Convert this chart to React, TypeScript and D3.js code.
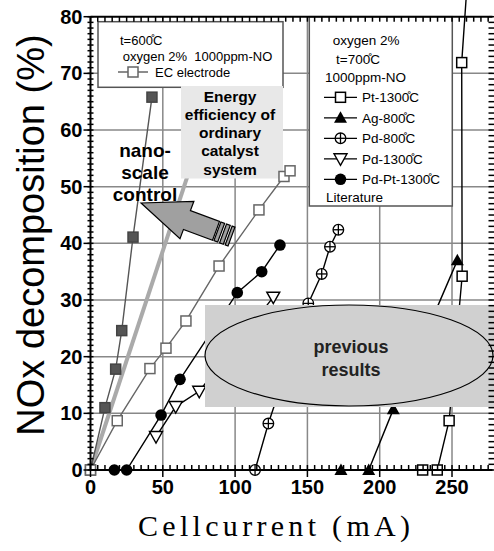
import * as d3 from "d3";

const W = 494;
const H = 551;

// [cell current mA, NOx decomposition %]
const ecFilled = [[0, 0], [10, 11], [17.4, 17.8], [21.6, 24.6], [29.4, 41.1], [42.5, 65.8]];
const ecElectrode = [[0, 0], [18.5, 8.7], [41.1, 17.9], [52.2, 21.5], [66, 26.3], [88.9, 36], [116.5, 45.9], [133.8, 51.8], [138, 52.8]];
const literature = [[0, 0], [75, 58]];
const pt1300 = [[229.7, 0], [239.8, 0], [248, 8.7], [257, 34.2], [256.7, 71.9], [259.7, 83]];
const ag800 = [[173.2, 0], [192.4, 0], [209.4, 10.7], [253.7, 37]];
const pd800 = [[113.8, 0], [123, 8.2], [150.6, 29.4], [159.9, 34.6], [165.6, 39.4], [171.4, 42.4]];
const pd1300 = [[45.3, 5.9], [58.9, 11.2], [75.2, 13.9], [126.4, 30.5]];
const pdPt1300 = [[16.5, 0], [25, 0], [48.8, 9.7], [61.9, 16], [101.5, 31.3], [118.4, 35], [131, 39.7]];

const xTicks = [0, 50, 100, 150, 200, 250];
const yTicks = [0, 10, 20, 30, 40, 50, 60, 70, 80];

const leftLegendLines = ["t=600\u030AC", "oxygen 2%  1000ppm-NO"];
const rightLegendLines = ["oxygen 2%", "t=700\u030AC", "1000ppm-NO"];
const rightLegendItems = [
  { label: "Pt-1300\u030AC", type: "square" },
  { label: "Ag-800\u030AC", type: "triangle" },
  { label: "Pd-800\u030AC", type: "oplus" },
  { label: "Pd-1300\u030AC", type: "triDown" },
  { label: "Pd-Pt-1300\u030AC", type: "circle" },
];
const energyLines = ["Energy", "efficiency of", "ordinary", "catalyst", "system"];
const nanoLines = ["nano-", "scale", "control"];
const previousLines = ["previous", "results"];

const FONT = "'Liberation Sans', Arial, sans-serif";

function Marker({ type, x, y, fill = "white", stroke = "black" }) {
  if (type === "square") {
    return <rect x={x - 5} y={y - 5} width={10} height={10} fill={fill} stroke={stroke} strokeWidth={1.5} />;
  }
  if (type === "circle") {
    return <circle cx={x} cy={y} r={5.8} fill="black" />;
  }
  if (type === "triangle") {
    return <path d={`M${x},${y - 6.5}L${x + 6.5},${y + 5}L${x - 6.5},${y + 5}Z`} fill="black" />;
  }
  if (type === "triDown") {
    return <path d={`M${x - 6.5},${y - 5}L${x + 6.5},${y - 5}L${x},${y + 6.5}Z`} fill="white" stroke="black" strokeWidth={1.4} />;
  }
  if (type === "oplus") {
    return (
      <g stroke="black" strokeWidth={1.3} fill="white">
        <circle cx={x} cy={y} r={5.3} />
        <line x1={x - 5.3} x2={x + 5.3} y1={y} y2={y} />
        <line x1={x} x2={x} y1={y - 5.3} y2={y + 5.3} />
      </g>
    );
  }
  return null;
}

export default function App() {
  const x = d3.scaleLinear().domain([0, 278]).range([90.5, 492.5]);
  const y = d3.scaleLinear().domain([0, 80]).range([470, 16.7]);
  const line = d3.line().x((d) => x(d[0])).y((d) => y(d[1]));

  const series = [
    { data: ecFilled, type: "square", fill: "#555", stroke: "#444", color: "#555" },
    { data: ecElectrode, type: "square", fill: "white", stroke: "#666", color: "#666" },
    { data: pt1300, type: "square", fill: "white", stroke: "black", color: "black" },
    { data: ag800, type: "triangle", color: "black" },
    { data: pd800, type: "oplus", color: "black" },
    { data: pd1300, type: "triDown", color: "black" },
    { data: pdPt1300, type: "circle", color: "black" },
  ];

  const [x0, x1] = x.range();
  const [y0, y1] = y.range();

  // arrow (points toward the upper left)
  const tip = [141, 203];
  const ang = (Math.atan2(33, 89) * 180) / Math.PI;

  return (
    <svg width={W} height={H} style={{ position: "absolute", left: 0, top: 0, background: "white" }}>
      {/* grid */}
      <g stroke="#888" strokeWidth={1.5}>
        {xTicks.filter((t) => t > 0).map((t) => (
          <line key={"gx" + t} x1={x(t)} x2={x(t)} y1={y0} y2={y1} />
        ))}
        {yTicks.filter((t) => t > 0 && t < 80).map((t) => (
          <line key={"gy" + t} x1={x0} x2={x1} y1={y(t)} y2={y(t)} />
        ))}
      </g>

      {/* legend boxes */}
      <rect x={98} y={21.7} width={185} height={65.6} fill="white" stroke="#555" strokeWidth={1.5} />
      <g fontFamily={FONT} fontSize={13} fill="black">
        <text x={120} y={45}>{leftLegendLines[0]}</text>
        <text x={122.7} y={61} style={{ whiteSpace: "pre" }}>{leftLegendLines[1]}</text>
        <line x1={118} x2={148} y1={72} y2={72} stroke="#666" strokeWidth={1.5} />
        <Marker type="square" x={133} y={72} fill="white" stroke="#666" />
        <text x={155} y={76.5}>EC electrode</text>
      </g>
      <rect x={309.3} y={16.7} width={143} height={189.3} fill="white" stroke="#555" strokeWidth={1.5} />
      <g fontFamily={FONT} fontSize={13.5} fill="black">
        <text x={332.7} y={45}>{rightLegendLines[0]}</text>
        <text x={336} y={64}>{rightLegendLines[1]}</text>
        <text x={325} y={82}>{rightLegendLines[2]}</text>
        {rightLegendItems.map((it, i) => {
          const cy = 97.3 + i * 20.5;
          return (
            <g key={it.label}>
              <line x1={324} x2={357} y1={cy} y2={cy} stroke="black" strokeWidth={1.3} />
              <Marker type={it.type} x={340.5} y={cy} />
              <text x={362} y={cy + 5}>{it.label}</text>
            </g>
          );
        })}
        <text x={326} y={201.5}>Literature</text>
      </g>

      {/* literature line */}
      <path d={line(literature)} stroke="#aaa" strokeWidth={4} fill="none" />

      {/* energy box */}
      <rect x={181} y={86} width={102} height={92.5} fill="#e8e8e8" />
      <g fontFamily={FONT} fontSize={15.5} fontWeight="bold" textAnchor="middle">
        {energyLines.map((t, i) => (
          <text key={t} x={230} y={101.5 + i * 18.3}>{t}</text>
        ))}
      </g>

      {/* data */}
      {series.map((s, i) => (
        <g key={i}>
          <path d={line(s.data)} fill="none" stroke={s.color} strokeWidth={1.4} />
          {s.data.filter((d) => d[1] <= 80).map((d, j) => (
            <Marker key={j} type={s.type} x={x(d[0])} y={y(d[1])} fill={s.fill} stroke={s.stroke} />
          ))}
        </g>
      ))}

      {/* previous results */}
      <rect x={205} y={305} width={W - 205} height={102} fill="#d0d0d0" />
      <ellipse cx={349} cy={355.5} rx={144} ry={50.5} fill="#d0d0d0" stroke="black" strokeWidth={1.2} />
      <g fontFamily={FONT} fontSize={18} fontWeight="bold" textAnchor="middle" fill="#222">
        {previousLines.map((t, i) => (
          <text key={t} x={351} y={353 + i * 22.5}>{t}</text>
        ))}
      </g>

      {/* arrow */}
      <g transform={`translate(${tip[0]},${tip[1]}) rotate(${ang})`} fill="#a0a0a0" stroke="black" strokeWidth={1.2}>
        <path d="M0,0L49,-20L49,-10L80,-10L80,10L49,10L49,20Z" />
        <rect x={81.5} y={-10} width={4} height={20} />
        <rect x={87.5} y={-10} width={4} height={20} />
        <rect x={93.5} y={-10} width={3} height={20} />
      </g>

      {/* nano-scale text */}
      <g fontFamily={FONT} fontSize={19} fontWeight="bold" textAnchor="middle">
        {nanoLines.map((t, i) => (
          <text key={t} x={145} y={157 + i * 22}>{t}</text>
        ))}
      </g>

      {/* axes */}
      <g stroke="black">
        <line x1={x0} x2={x0} y1={y0 + 1} y2={y1} strokeWidth={2} />
        <line x1={x0} x2={x1} y1={y0} y2={y0} strokeWidth={2} />
        <line x1={x0} x2={x1} y1={y1} y2={y1} strokeWidth={2} />
        {d3.range(0, 81, 1).map((v) => (
          <line key={"ly" + v} x1={x0 - 3} x2={x0 + 3} y1={y(v)} y2={y(v)} strokeWidth={1.5} />
        ))}
        {d3.range(0, 81, 1).map((v) => (
          <line key={"ry" + v} x1={x1 - 4} x2={x1 + 2} y1={y(v)} y2={y(v)} strokeWidth={1.5} />
        ))}
        {yTicks.map((v) => (
          <line key={"my" + v} x1={x0 - 7} x2={x0} y1={y(v)} y2={y(v)} strokeWidth={1.5} />
        ))}
        {d3.range(0, 276, 5).map((v) => (
          <line key={"bx" + v} x1={x(v)} x2={x(v)} y1={y0} y2={y0 - 5} strokeWidth={1.5} />
        ))}
        {d3.range(0, 276, 5).map((v) => (
          <line key={"tx" + v} x1={x(v)} x2={x(v)} y1={y1} y2={y1 + 5} strokeWidth={1.5} />
        ))}
        {xTicks.map((v) => (
          <line key={"mx" + v} x1={x(v)} x2={x(v)} y1={y0} y2={y0 + 7} strokeWidth={1.5} />
        ))}
      </g>

      <g fontFamily={FONT} fontSize={20} fontWeight="bold" fill="black">
        {yTicks.map((v) => (
          <text key={"yl" + v} x={x0 - 8} y={y(v) + 7} textAnchor="end">{v}</text>
        ))}
        {xTicks.map((v) => (
          <text key={"xl" + v} x={x(v)} y={494} textAnchor="middle">{v}</text>
        ))}
      </g>

      <text transform="translate(44,235) rotate(-90)" textAnchor="middle" fontFamily={FONT} fontSize={38}>
        NOx decomposition (%)
      </text>
      <text x={138} y={536} fontFamily="'Liberation Serif', serif" fontSize={30} textLength={272} lengthAdjust="spacing">
        Cellcurrent (mA)
      </text>
    </svg>
  );
}
